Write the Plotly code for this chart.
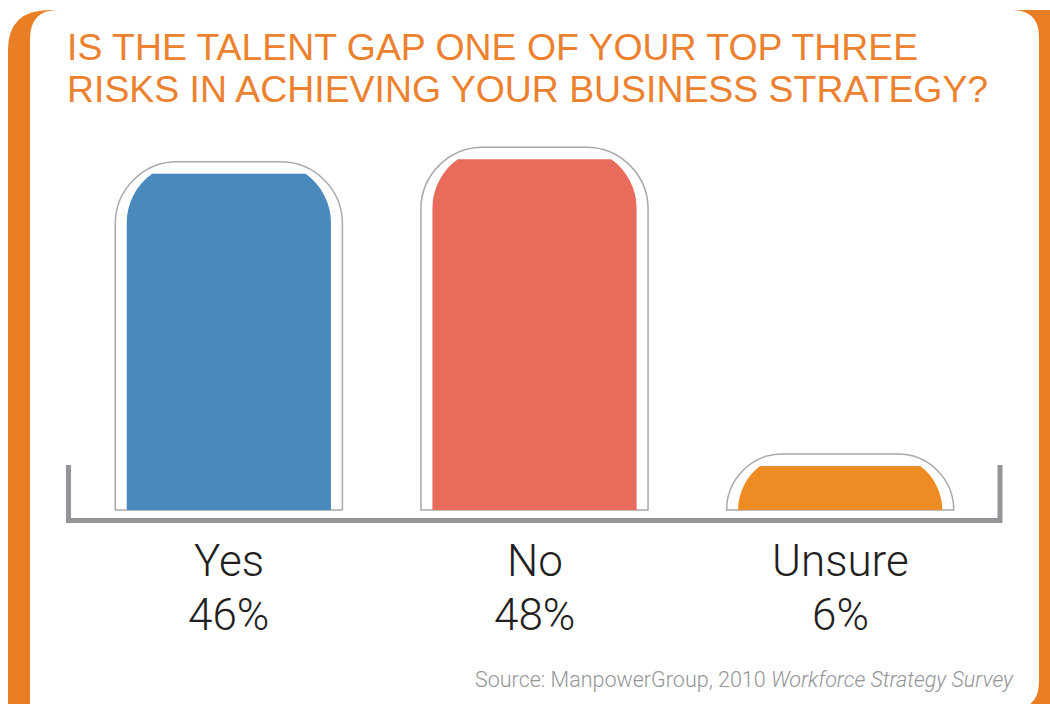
import plotly.graph_objects as go

# ---- data ----
categories = ["Yes", "No", "Unsure"]
values = [46, 48, 6]
value_labels = ["46%", "48%", "6%"]
bar_colors = ["#4A89BD", "#E86B5C", "#EE8B22"]
title_lines = ["IS THE TALENT GAP ONE OF YOUR TOP THREE",
               "RISKS IN ACHIEVING YOUR BUSINESS STRATEGY?"]
source_plain = "Source: ManpowerGroup, 2010 "
source_italic = "Workforce Strategy Survey"

# ---- layout geometry (pixels) ----
W, H = 1050, 704
L, R, T, B = 76, 57, 130, 174
PW, PH = W - L - R, H - T - B
Y_MIN, Y_MAX = -2.75, 52.0
OUTLINE_PAD = 1.64  # gap between bar and its outline (value units)

def px(x):
    return (x - L) / PW

def py(y):
    return (H - B - y) / PH

ORANGE = "#E97E24"
TITLE_ORANGE = "#EC812F"
GRAY = "#939598"
DARK = "#231F20"
FONT = "Roboto"
TITLE_FONT = "Liberation Sans"

outline_vals = [v + OUTLINE_PAD for v in values]

fig = go.Figure()
fig.add_trace(go.Bar(
    x=categories, y=outline_vals, width=0.743,
    marker=dict(color="white", line=dict(color="#A7A9AC", width=1.5), cornerradius=62),
    hoverinfo="skip", showlegend=False))
fig.add_trace(go.Bar(
    x=categories, y=values, width=0.668,
    marker=dict(color=bar_colors, line=dict(width=0), cornerradius=60),
    hoverinfo="skip", showlegend=False))

def P(x, y):
    return f"{px(x):.5f},{py(y):.5f}"

orange_path = (f"M {P(8,716)} L {P(8,50)} Q {P(8,10)} {P(50,10)} "
               f"L {P(1065,10)} L {P(1065,716)} Z")
white_path = (f"M {P(30,712)} L {P(30,39)} Q {P(30,10)} {P(58,10)} "
              f"L {P(1012,10)} Q {P(1039,10)} {P(1039,37)} "
              f"L {P(1039,682)} Q {P(1039,709)} {P(1012,709)} L {P(30,712)} Z")
base_path = f"M {P(68.5,465)} L {P(68.5,520.5)} L {P(1000,520.5)} L {P(1000,465)}"

shapes = [
    dict(type="path", xref="paper", yref="paper", path=orange_path,
         fillcolor=ORANGE, line=dict(width=0), layer="below"),
    dict(type="path", xref="paper", yref="paper", path=white_path,
         fillcolor="white", line=dict(width=0), layer="below"),
    dict(type="path", xref="paper", yref="paper", path=base_path,
         line=dict(color=GRAY, width=5), layer="above"),
]

annotations = []
title_y = [46.5, 88.5]
for line, ty in zip(title_lines, title_y):
    annotations.append(dict(text=line, xref="paper", yref="paper",
                            x=px(65), y=py(ty), xanchor="left", yanchor="middle",
                            showarrow=False,
                            font=dict(family=TITLE_FONT, size=37.4, color=TITLE_ORANGE)))
for c, vl in zip(categories, value_labels):
    annotations.append(dict(text=c, xref="x", yref="paper", x=c, y=py(561),
                            xanchor="center", yanchor="middle", showarrow=False,
                            font=dict(family=FONT, size=44, color=DARK, weight=300)))
    annotations.append(dict(text=vl, xref="x", yref="paper", x=c, y=py(615),
                            xanchor="center", yanchor="middle", showarrow=False,
                            font=dict(family=FONT, size=44, color=DARK, weight=300)))
annotations.append(dict(text=source_plain + "<i>" + source_italic + "</i>",
                        xref="paper", yref="paper", x=px(1016), y=py(679),
                        xanchor="right", yanchor="middle", showarrow=False,
                        font=dict(family=FONT, size=21.5, color=GRAY, weight=300)))

fig.update_layout(
    width=W, height=H, margin=dict(l=L, r=R, t=T, b=B),
    paper_bgcolor="white", plot_bgcolor="rgba(0,0,0,0)",
    barmode="overlay", hovermode=False,
    xaxis=dict(range=[-0.5, 2.5], showticklabels=False, showgrid=False, zeroline=False,
               showline=False, ticks=""),
    yaxis=dict(range=[Y_MIN, Y_MAX], visible=False, showgrid=False, zeroline=False),
    shapes=shapes, annotations=annotations,
)
fig.write_html("out.html", config={"displayModeBar": False},
               post_script="document.body.style.margin='0px';")
